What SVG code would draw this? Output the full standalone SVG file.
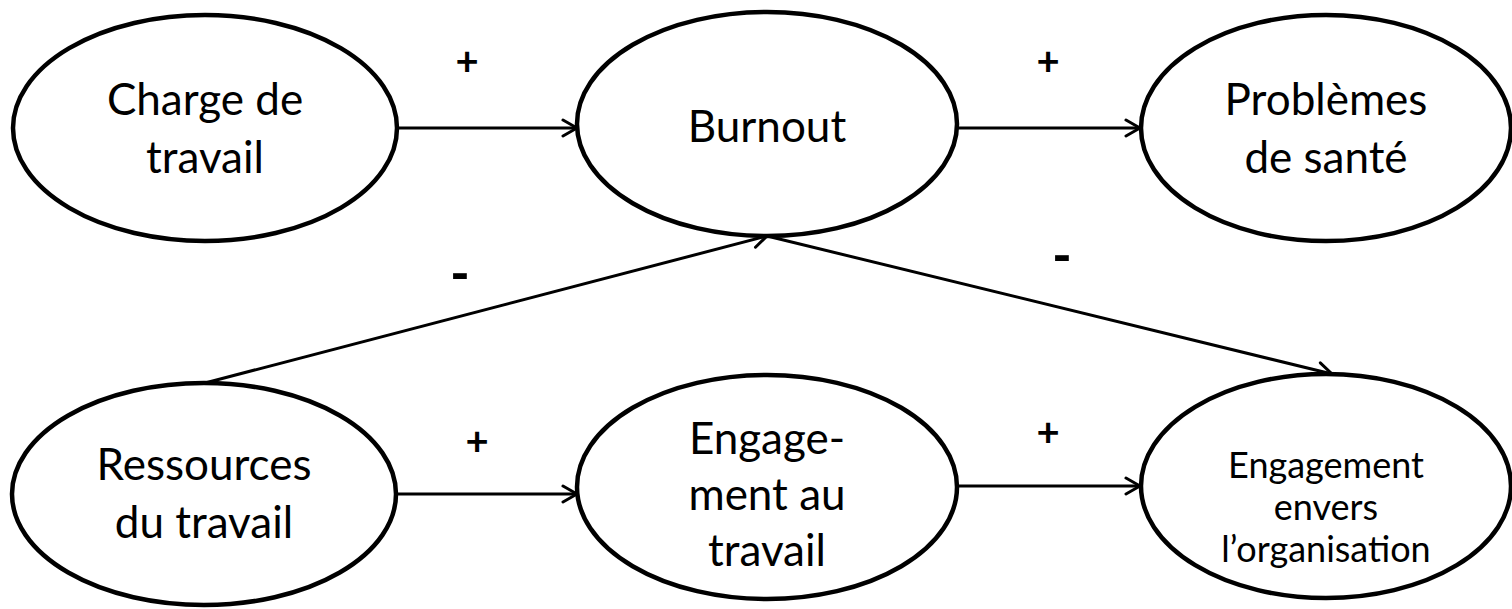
<svg xmlns="http://www.w3.org/2000/svg" width="1512" height="609" viewBox="0 0 1512 609">
<style>
.n{fill:#fff;stroke:#000;stroke-width:4.5}
.t{font-family:Lato,"Liberation Sans",sans-serif;font-size:44px;fill:#000;text-anchor:middle}
.s{font-size:36px}
.e{stroke:#000;stroke-width:3;fill:none;marker-end:url(#a)}
.l{font-family:Lato,"Liberation Sans",sans-serif;font-size:40px;font-weight:bold;fill:#000;text-anchor:middle}
.m{font-size:52px;font-weight:900}
</style>
<defs>
<marker id="a" viewBox="0 0 20 20" refX="18" refY="10" markerWidth="20" markerHeight="20" markerUnits="userSpaceOnUse" orient="auto">
<path d="M4 2 L18 10 L4 18" fill="none" stroke="#000" stroke-width="3" stroke-linecap="round"/>
</marker>
</defs>
<g id="edges">
<line class="e" x1="397" y1="128" x2="577" y2="128"/>
<line class="e" x1="957" y1="128" x2="1140" y2="128"/>
<line class="e" x1="397" y1="494" x2="577" y2="494"/>
<line class="e" x1="957" y1="486" x2="1140" y2="486"/>
<line class="e" x1="205" y1="383" x2="767" y2="236"/>
<line class="e" x1="767" y1="236" x2="1332" y2="374"/>
<text class="l" x="467" y="75">+</text>
<text class="l" x="1048" y="75">+</text>
<text class="l" x="477" y="455">+</text>
<text class="l" x="1048" y="446">+</text>
<text class="l m" x="460" y="292">-</text>
<text class="l m" x="1062" y="274">-</text>
</g>
<g id="charge"><ellipse class="n" cx="205" cy="128" rx="192" ry="113"/>
<text class="t" x="205" y="115">Charge de</text><text class="t" x="205" y="173">travail</text></g>
<g id="burnout"><ellipse class="n" cx="767" cy="124" rx="190" ry="112"/>
<text class="t" x="767" y="142">Burnout</text></g>
<g id="sante"><ellipse class="n" cx="1326" cy="128" rx="185" ry="113"/>
<text class="t" x="1326" y="115">Problèmes</text><text class="t" x="1326" y="173">de santé</text></g>
<g id="ressources"><ellipse class="n" cx="204" cy="494" rx="192" ry="111"/>
<text class="t" x="204" y="480">Ressources</text><text class="t" x="204" y="538">du travail</text></g>
<g id="engtravail"><ellipse class="n" cx="767" cy="487" rx="190" ry="112"/>
<text class="t" x="767" y="454">Engage-</text><text class="t" x="767" y="510">ment au</text><text class="t" x="767" y="566">travail</text></g>
<g id="engorg"><ellipse class="n" cx="1326" cy="486" rx="185" ry="112"/>
<text class="t s" x="1326" y="478">Engagement</text><text class="t s" x="1326" y="520">envers</text><text class="t s" x="1326" y="562">l’organisation</text></g>
</svg>
